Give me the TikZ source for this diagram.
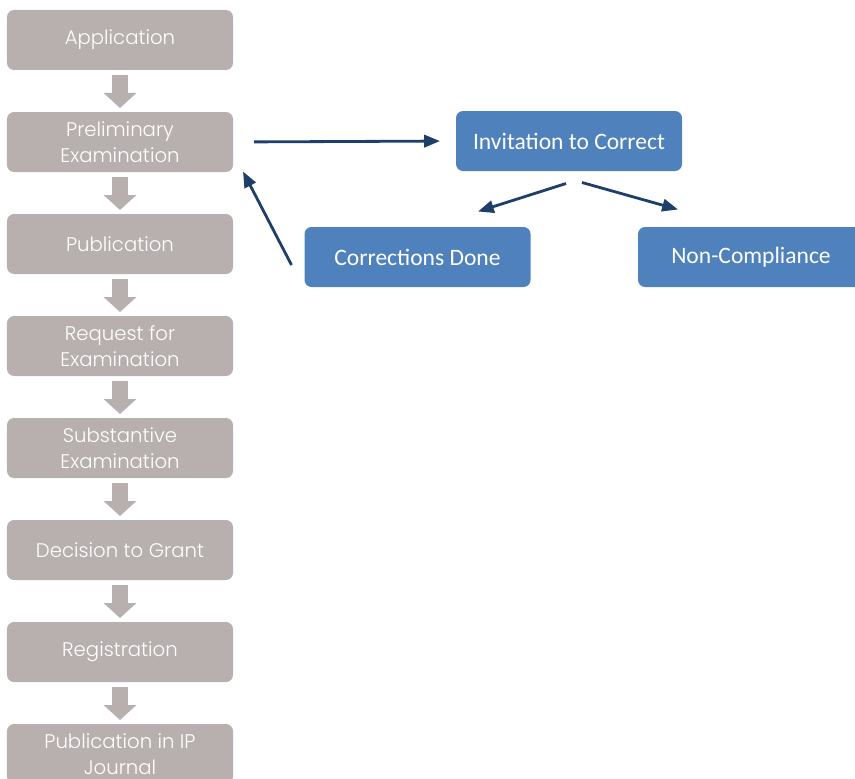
\documentclass[tikz,border=0pt]{standalone}
\usepackage{fontspec}
\usepackage{xcolor}
\usepackage{tikz}
\usetikzlibrary{positioning,calc,arrows.meta}
\newfontfamily\stepfont{Poppins Light}
\newfontfamily\sidefont{Carlito}
\definecolor{stepgrey}{HTML}{B8AFAF}
\definecolor{sideblue}{HTML}{4F81BD}
\definecolor{linknavy}{HTML}{1F3F6B}

\tikzset{
   stepbox/.style={fill=stepgrey, rounded corners=4pt, minimum width=4.52cm, minimum height=1.2cm,
      outer sep=0pt, text=white, align=center, font=\stepfont\fontsize{11.2}{14.8}\selectfont},
   sidebox/.style={fill=sideblue, rounded corners=4pt, minimum width=4.52cm, minimum height=1.2cm,
      outer sep=0pt, text=white, align=center, font=\sidefont\fontsize{13.4}{16}\selectfont},
   downarrow/.style={draw=stepgrey, line width=0.32cm, shorten <=0.1cm, shorten >=0.08cm,
      -{Triangle[length=0.3cm, width=0.64cm]}},
   link/.style={draw=linknavy, line width=1.6pt, -{Triangle[length=9pt, width=7pt]}}
}

\begin{document}
\begin{tikzpicture}[node distance=0.84cm]
   \useasboundingbox (0,0) rectangle (17.1,-15.56);

   % Main steps
   \node[stepbox] (app) at (2.4,-0.8) {Application};
   \node[stepbox, below=of app] (prelim) {Preliminary\\Examination};
   \node[stepbox, below=of prelim] (pub) {Publication};
   \node[stepbox, below=of pub] (request) {Request for\\Examination};
   \node[stepbox, below=of request] (subst) {Substantive\\Examination};
   \node[stepbox, below=of subst] (decision) {Decision to Grant};
   \node[stepbox, below=of decision] (reg) {Registration};
   \node[stepbox, below=of reg] (journal) {Publication in IP\\Journal};

   \foreach \a/\b in {app/prelim, prelim/pub, pub/request, request/subst,
                      subst/decision, decision/reg, reg/journal}
      \draw[downarrow] (\a.south) -- (\b.north);

   % Correction branch
   \node[sidebox] (invite) at (11.38,-2.82) {Invitation to Correct};
   \node[sidebox] (corrdone) at (8.35,-5.14) {Corrections Done};
   \node[sidebox] (noncomp) at (15.02,-5.14) {Non-Compliance};

   \draw[link, shorten <=0.42cm, shorten >=0.32cm] (prelim.east) -- (invite.west);
   \draw[link] ([shift={(-0.06,-0.25)}]invite.south) -- ([shift={(1.21,0.31)}]corrdone.north);
   \draw[link] ([shift={(0.26,-0.23)}]invite.south) -- ([shift={(-1.46,0.35)}]noncomp.north);
   \draw[link] ([shift={(-0.26,-0.16)}]corrdone.west) -- ([shift={(0.2,0.01)}]prelim.south east);

\end{tikzpicture}
\end{document}
